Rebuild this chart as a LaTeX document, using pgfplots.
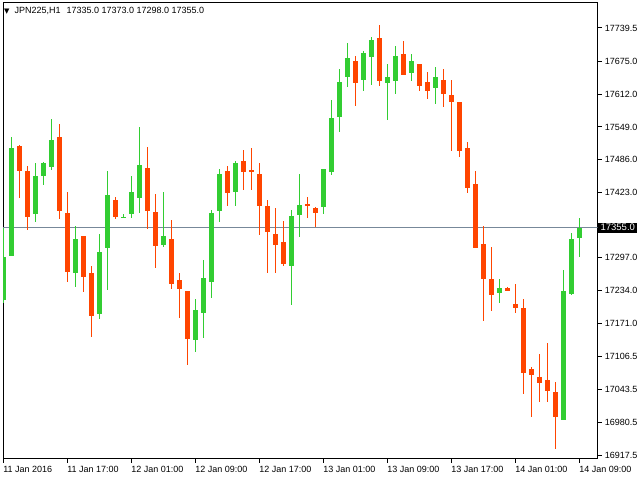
\documentclass[border=0pt]{standalone}
\usepackage{fontspec}
\setmainfont{Liberation Sans}
\newfontfamily\dejavu{DejaVu Sans}
\usepackage{pgfplots}
\usepackage{pgfplotstable}
\pgfplotsset{compat=1.18}
\definecolor{bull}{HTML}{32CD32}
\definecolor{bear}{HTML}{FF4500}
\definecolor{pline}{HTML}{778899}

\pgfplotstableread{
k o h l c
0 17216 17354 17210 17299
1 17300 17530 17300 17508
4 17382 17480 17367 17455
5 17455 17481 17438 17480
6 17472 17564 17466 17524
9 17267 17358 17241 17333
12 17189 17343 17180 17308
13 17316 17464 17236 17418
15 17374 17382 17374 17376
16 17382 17455 17374 17424
17 17413 17549 17384 17476
20 17322 17424 17318 17339
24 17139 17218 17116 17197
25 17191 17293 17143 17258
26 17251 17389 17220 17383
27 17388 17468 17367 17458
29 17424 17484 17397 17480
36 17282 17389 17207 17378
37 17380 17458 17338 17399
40 17395 17468 17382 17468
41 17463 17601 17457 17566
42 17569 17661 17540 17636
43 17646 17711 17626 17682
45 17640 17695 17619 17691
46 17684 17722 17630 17716
48 17634 17670 17563 17645
49 17638 17705 17613 17686
51 17653 17689 17638 17676
54 17623 17664 17594 17645
62 17230 17256 17211 17239
70 16985 17274 16985 17233
71 17228 17345 17226 17333
72 17335 17373 17298 17355
}\bulltab

\pgfplotstableread{
k o h l c
2 17512 17514 17413 17465
3 17464 17474 17351 17376
7 17530 17555 17372 17388
8 17383 17424 17251 17270
10 17339 17340 17232 17261
11 17268 17281 17145 17186
14 17408 17414 17372 17376
18 17470 17510 17353 17388
19 17385 17420 17278 17320
21 17333 17370 17238 17247
22 17254 17268 17182 17238
23 17233 17234 17091 17141
28 17464 17474 17397 17422
30 17484 17505 17428 17463
31 17466 17508 17428 17463
32 17458 17480 17342 17397
33 17397 17408 17267 17347
34 17343 17393 17267 17322
35 17327 17368 17282 17286
38 17401 17414 17374 17396
39 17393 17394 17357 17384
44 17676 17686 17590 17634
47 17720 17745 17628 17638
50 17689 17714 17648 17648
52 17670 17671 17619 17628
53 17635 17655 17603 17619
55 17639 17661 17588 17613
56 17610 17639 17503 17598
57 17597 17598 17491 17503
58 17508 17520 17422 17432
59 17439 17464 17316 17316
60 17324 17358 17176 17257
61 17256 17318 17195 17226
63 17239 17241 17234 17234
64 17208 17247 17191 17201
65 17200 17218 17035 17076
66 17083 17087 16991 17072
67 17068 17112 17020 17057
68 17062 17133 17020 17041
69 17039 17058 16930 16991
}\beartab

\begin{document}
\begin{tikzpicture}
\useasboundingbox (0,0) rectangle (640pt,480pt);
\begin{axis}[
  at={(3pt,21.3pt)}, anchor=south west,
  width=594.6pt, height=456.4pt, scale only axis,
  xmin=-0.075, xmax=74.25, ymin=16910.4, ymax=17788.9,
  axis line style={black, line width=1pt},
  tick align=outside, major tick length=4pt,
  tick style={black, line width=1pt},
  xtick pos=left, ytick pos=right, yticklabel pos=right,
  xtick={0,8,16,24,32,40,48,56,64,72},
  xticklabels={11 Jan 2016,11 Jan 17:00,12 Jan 01:00,12 Jan 09:00,12 Jan 17:00,13 Jan 01:00,13 Jan 09:00,13 Jan 17:00,14 Jan 01:00,14 Jan 09:00},
  ytick={16917.5,16980.5,17043.5,17106.5,17171,17234,17297,17423,17486,17549,17612,17675,17739.5},
  yticklabels={16917.5,16980.5,17043.5,17106.5,17171.0,17234.0,17297.0,17423.0,17486.0,17549.0,17612.0,17675.0,17739.5},
  xticklabel style={anchor=north west, inner sep=0pt, xshift=-0.5pt, yshift=-3pt, font=\fontsize{9}{10}\selectfont},
  yticklabel style={anchor=west, inner sep=0pt, xshift=3pt, font=\fontsize{9}{10}\selectfont},
  clip=true,
  candle/.style={only marks, mark size=0pt, mark options={draw=none, fill=none}},
]
\addplot[pline, line width=1pt] coordinates {(-1,17355) (80,17355)};
% wicks
\addplot[bull, candle, error bars/.cd, y dir=both, y explicit, error mark=none,
  error bar style={draw=bull, line width=1.3pt}]
  table[x=k, y expr={(\thisrow{h}+\thisrow{l})/2}, y error expr={(\thisrow{h}-\thisrow{l})/2}] {\bulltab};
\addplot[bear, candle, error bars/.cd, y dir=both, y explicit, error mark=none,
  error bar style={draw=bear, line width=1.3pt}]
  table[x=k, y expr={(\thisrow{h}+\thisrow{l})/2}, y error expr={(\thisrow{h}-\thisrow{l})/2}] {\beartab};
% bodies
\addplot[bull, candle, error bars/.cd, y dir=both, y explicit, error mark=none,
  error bar style={draw=bull, line width=4.7pt, line cap=butt}]
  table[x=k, y expr={(\thisrow{o}+\thisrow{c})/2}, y error expr={max(abs(\thisrow{c}-\thisrow{o})/2,0.9)}] {\bulltab};
\addplot[bear, candle, error bars/.cd, y dir=both, y explicit, error mark=none,
  error bar style={draw=bear, line width=4.7pt, line cap=butt}]
  table[x=k, y expr={(\thisrow{o}+\thisrow{c})/2}, y error expr={max(abs(\thisrow{c}-\thisrow{o})/2,0.9)}] {\beartab};
\coordinate (pl) at (axis cs:74.25,17355);
\end{axis}
\node[fill=black, text=white, anchor=west, inner xsep=2.2pt, inner ysep=1.6pt, font=\fontsize{9.5}{10}\selectfont, xshift=0.6pt] at (pl) {17355.0};
\node[anchor=base west, inner sep=0pt, font=\fontsize{9}{10}\selectfont] at (4pt,466pt) {{\dejavu\fontsize{7}{8}\selectfont ▼}\hspace{5pt}JPN225,H1\hspace{6pt}17335.0 17373.0 17298.0 17355.0};
\end{tikzpicture}
\end{document}
